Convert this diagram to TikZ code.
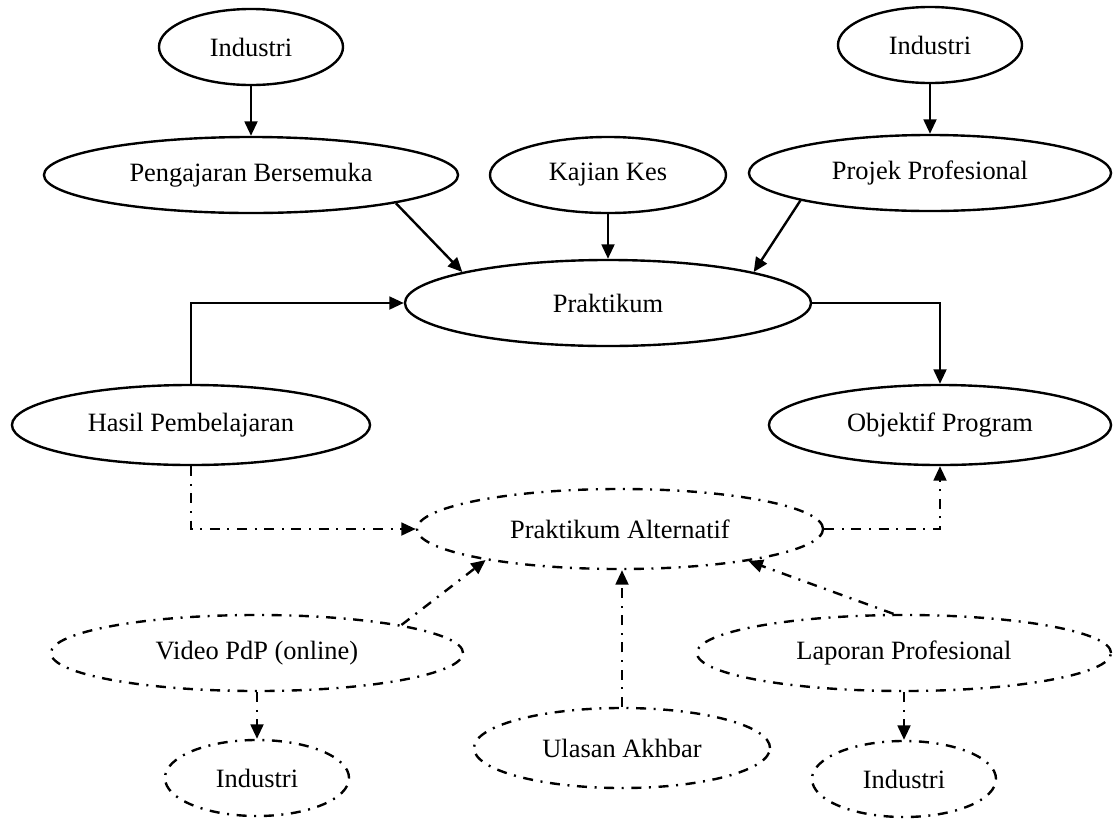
\documentclass[tikz,border=0pt]{standalone}
\usepackage{fontspec}
\setmainfont{Liberation Serif}
\usepackage{tikz}
\usetikzlibrary{shapes.geometric,arrows.meta}

\begin{document}
\begin{tikzpicture}[x=0.025cm,y=-0.025cm,line width=1.7pt,
  every node/.style={ellipse,draw,inner sep=0pt,minimum height=1.9cm,
    font=\fontsize{18.8}{22}\selectfont},
  alt/.style={dash pattern=on 0.25cm off 0.19cm on 0.05cm off 0.19cm},
  >={Triangle[length=0.36cm,width=0.32cm]}]
  \useasboundingbox (0,0) rectangle (1113,818);
  % top row
  \node[minimum width=4.6cm] (indl) at (251,47) {Industri};
  \node[minimum width=4.6cm] (indr) at (930,45) {Industri};
  \node[minimum width=10.35cm] (peng) at (251,175) {Pengajaran Bersemuka};
  \node[minimum width=5.9cm] (kes) at (608,175) {Kajian Kes};
  \node[minimum width=9.05cm] (projek) at (930,173) {Projek Profesional};
  % middle
  \node[minimum width=10.15cm,minimum height=2.15cm] (prak) at (608,303) {Praktikum};
  \node[minimum width=8.95cm,minimum height=2cm] (hasil) at (191,425) {Hasil Pembelajaran};
  \node[minimum width=8.55cm,minimum height=2cm] (obj) at (940,425) {Objektif Program};
  % alternatif
  \node[alt,minimum width=10.15cm,minimum height=2cm] (alt) at (620,529) {Praktikum Alternatif};
  \node[alt,minimum width=10.3cm] (video) at (257,653) {Video PdP (online)};
  \node[alt,minimum width=10.35cm] (lapor) at (904,653) {Laporan Profesional};
  \node[alt,minimum width=7.4cm,minimum height=2cm] (ulasan) at (622,748) {Ulasan Akhbar};
  \node[alt,minimum width=4.6cm] (indvl) at (257,778) {Industri};
  \node[alt,minimum width=4.6cm] (indlr) at (904,779) {Industri};

  \draw[->] (indl) -- (peng);
  \draw[->] (indr) -- (projek);
  \draw[->] (peng.-11) -- (prak.168);
  \draw[->] (kes) -- (prak);
  \draw[->] (projek.-168) -- (prak.12);
  \draw[->] (hasil.north) |- (prak.west);
  \draw[->] (prak.east) -| (obj.north);

  \draw[alt,->] (hasil.south) |- (alt.west);
  \draw[alt,->] (alt.east) -| (obj.south);
  \draw[alt,->] (video.11) -- (alt.-167);
  \draw[alt,->] (ulasan.north) -- (ulasan.north |- alt.south);
  \draw[alt,->] (lapor.105) -- (alt.-14);
  \draw[alt,->] (video) -- (indvl);
  \draw[alt,->] (lapor) -- (indlr);
\end{tikzpicture}
\end{document}
